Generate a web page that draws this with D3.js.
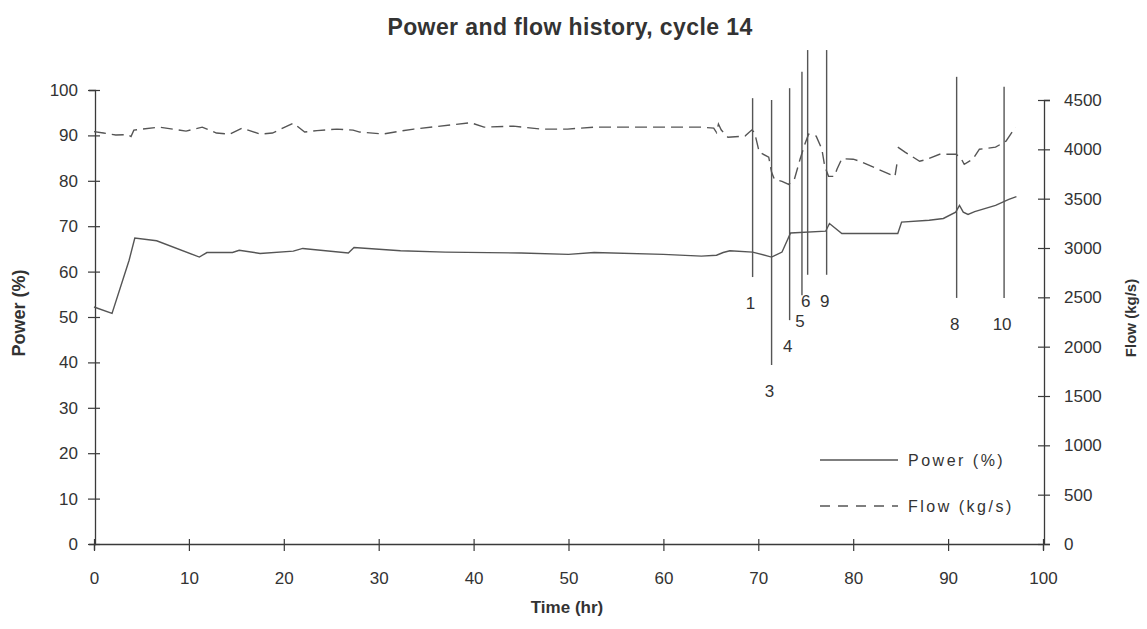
<!DOCTYPE html>
<html>
<head>
<meta charset="utf-8">
<script src="https://cdn.jsdelivr.net/npm/d3@7"></script>
<style>
  html, body { margin: 0; padding: 0; background: #fff; }
  svg { display: block; }
  text { font-family: "Liberation Sans", Arial, Helvetica, sans-serif; fill: #333; }
</style>
</head>
<body>
<svg id="chart" width="1147" height="629"></svg>
<script>
// ---- data ----
const powerTime = [0,1.9,3.7,4.3,6.6,11.1,11.9,14.6,15.3,17.5,21,22,26.8,27.4,32.3,37,45,50,52.7,60,64,65.6,66.3,67,69.4,71.4,72.5,73.4,77.1,77.5,78.8,84.7,85.1,88,89.5,90.8,91.2,91.6,92.1,92.8,95,96.4,97.2];
const powerValue = [52.2,50.8,62.5,67.4,66.8,63.2,64.2,64.2,64.7,64.0,64.5,65.1,64.1,65.3,64.6,64.3,64.1,63.8,64.2,63.8,63.4,63.6,64.2,64.6,64.3,63.2,64.3,68.5,68.9,70.6,68.4,68.4,70.9,71.3,71.7,73.1,74.6,73.1,72.6,73.2,74.6,75.9,76.5];

const flowTime = [0,1,2.3,3.5,3.9,4.2,6.9,9.7,11.4,12.9,14.3,15.6,16.4,17.5,18.8,21,22.2,23.5,25.6,27.3,28,30.5,32.3,33.7,39.7,41.1,44.2,47.1,49.9,52.7,64,65.3,65.6,65.8,66.1,66.8,68.6,69.3,69.6,70.1,71.1,71.4,71.7,72.5,73.2,73.8,74.4,74.9,75.3,76.1,76.7,77,77.4,78,78.3,78.8,80,80.7,84.1,84.4,84.6,null,84.7,85.5,87,87.8,89.1,90.8,91.3,91.7,92.6,93.3,95,96.1,97.1];
const flowValue = [4180,4165,4145,4150,4130,4195,4225,4185,4225,4165,4155,4215,4190,4155,4165,4265,4175,4190,4205,4195,4175,4155,4185,4205,4270,4225,4235,4205,4205,4225,4225,4215,4170,4256,4195,4123,4134,4195,4174,3971,3920,3767,3696,3675,3645,3696,3899,4052,4154,4134,4001,3828,3726,3726,3800,3905,3900,3880,3737,3726,3848,null,4022,3970,3879,3900,3950,3950,3920,3848,3900,4001,4022,4083,4225];

const eventNames  = ["1","3","4","5","6","9","8","10"];
const eventTimes  = [69.4,71.4,73.3,74.6,75.2,77.2,90.9,95.9];
const eventTops   = [98.2,97.8,100.4,104,108.8,108.8,102.9,100.7];   // power units
const eventBottoms= [58.8,39.4,49.3,54.8,59.3,59.3,54.2,54.2];       // power units

const timeTicks  = [0,10,20,30,40,50,60,70,80,90,100];
const powerTicks = [0,10,20,30,40,50,60,70,80,90,100];
const flowTicks  = [0,500,1000,1500,2000,2500,3000,3500,4000,4500];

// ---- layout ----
const svg = d3.select("#chart");
const x  = d3.scaleLinear().domain([0,100]).range([94,1043]);
const yL = d3.scaleLinear().domain([0,100]).range([544,90]);
const yR = d3.scaleLinear().domain([0,4500]).range([544,100]);
const ink = "#3a3a3a";
const lineInk = "#555";

// axes
const gx = svg.append("g").attr("transform","translate(0,544)")
  .call(d3.axisBottom(x).tickValues(timeTicks).tickSize(6).tickPadding(22).tickFormat(d3.format("d")));
gx.selectAll(".tick line").attr("y1",-5).attr("y2",7);

const gl = svg.append("g").attr("transform","translate(95,0)")
  .call(d3.axisLeft(yL).tickValues(powerTicks).tickSize(6).tickPadding(11).tickFormat(d3.format("d")));
gl.selectAll(".tick line").attr("x1",5).attr("x2",-7);

const gr = svg.append("g").attr("transform","translate(1044,0)")
  .call(d3.axisRight(yR).tickValues(flowTicks).tickSize(6).tickPadding(14).tickFormat(d3.format("d")));
gr.selectAll(".tick line").attr("x1",-6).attr("x2",6);

[gx,gl,gr].forEach(g => {
  g.select(".domain").attr("stroke",ink).attr("stroke-width",1.3);
  g.selectAll(".tick line").attr("stroke",ink).attr("stroke-width",1.2);
  g.selectAll(".tick text").attr("fill","#333").style("font-size","17px")
    .style("font-family","'Liberation Sans', Arial, sans-serif");
});

// series
const powerData = powerTime.map((t,i)=>({t, v: powerValue[i]}));
const flowData  = flowTime.map((t,i)=>({t, v: flowValue[i]}));

svg.append("path").datum(powerData)
  .attr("fill","none").attr("stroke",lineInk).attr("stroke-width",1.4)
  .attr("d", d3.line().x(d=>x(d.t)).y(d=>yL(d.v)));

svg.append("path").datum(flowData)
  .attr("fill","none").attr("stroke",lineInk).attr("stroke-width",1.4)
  .attr("stroke-dasharray","12,6")
  .attr("d", d3.line().defined(d=>d.t!==null && d.v!==null).x(d=>x(d.t)).y(d=>yR(d.v)));

// event markers
const events = eventNames.map((n,i)=>({n, t:eventTimes[i], top:eventTops[i], bot:eventBottoms[i]}));
svg.append("g").selectAll("line").data(events).join("line")
  .attr("x1",d=>x(d.t)).attr("x2",d=>x(d.t))
  .attr("y1",d=>yL(d.top)).attr("y2",d=>yL(d.bot))
  .attr("stroke",lineInk).attr("stroke-width",1.4);
svg.append("g").selectAll("text").data(events).join("text")
  .attr("x",d=>x(d.t)-2).attr("y",d=>yL(d.bot)+32)
  .attr("text-anchor","middle").style("font-size","17px")
  .text(d=>d.n);

// titles
svg.append("text").attr("x",570).attr("y",35).attr("text-anchor","middle")
  .style("font-size","23px").style("font-weight","bold").style("letter-spacing","0.4px")
  .text("Power and flow history, cycle 14");
svg.append("text").attr("x",567).attr("y",613).attr("text-anchor","middle")
  .style("font-size","17px").style("font-weight","bold").text("Time (hr)");
svg.append("text").attr("transform","translate(25,313) rotate(-90)").attr("text-anchor","middle")
  .style("font-size","18px").style("font-weight","bold").text("Power (%)");
svg.append("text").attr("transform","translate(1136,318) rotate(-90)").attr("text-anchor","middle")
  .style("font-size","15px").style("font-weight","bold").text("Flow (kg/s)");

// legend
const legend = svg.append("g");
legend.append("line").attr("x1",820).attr("x2",898).attr("y1",460).attr("y2",460)
  .attr("stroke",lineInk).attr("stroke-width",1.4);
legend.append("line").attr("x1",820).attr("x2",898).attr("y1",506).attr("y2",506)
  .attr("stroke",lineInk).attr("stroke-width",1.4).attr("stroke-dasharray","10,8");
legend.append("text").attr("x",908).attr("y",466).style("font-size","16px")
  .style("letter-spacing","2.5px").text("Power (%)");
legend.append("text").attr("x",908).attr("y",512).style("font-size","16px")
  .style("letter-spacing","2.5px").text("Flow (kg/s)");
</script>
</body>
</html>
